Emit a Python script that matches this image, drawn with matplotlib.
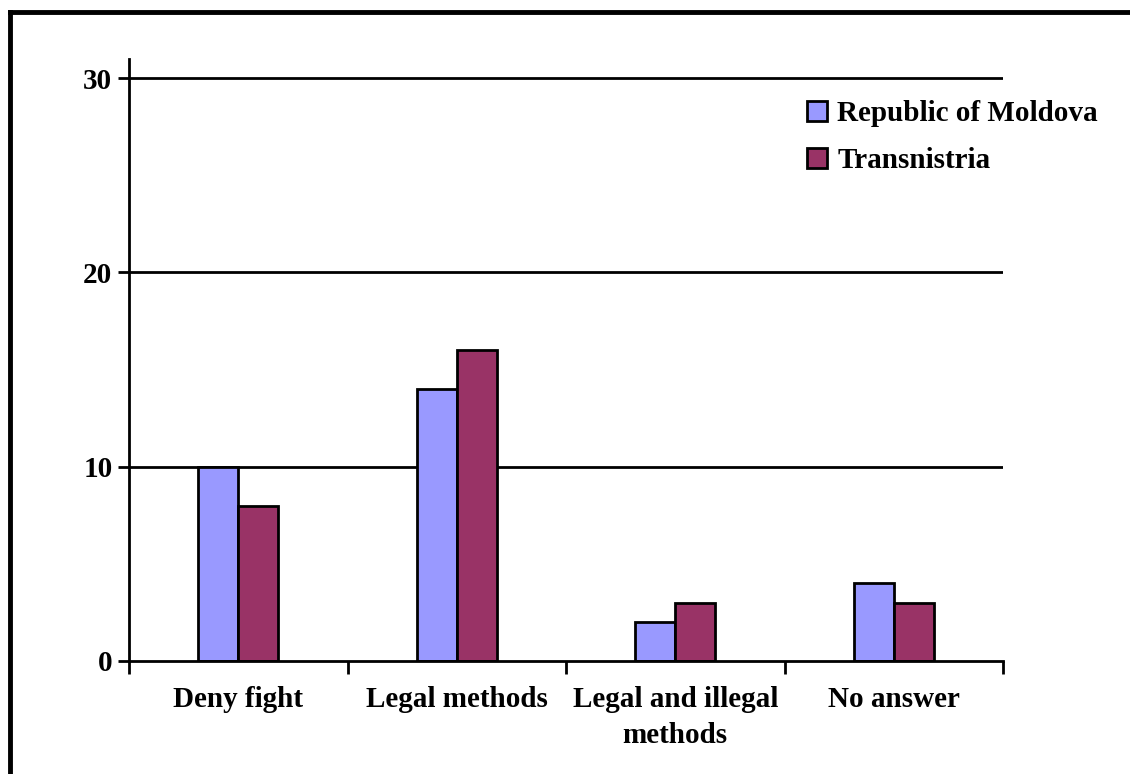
import numpy as np
import matplotlib
matplotlib.use("Agg")
import matplotlib.pyplot as plt
from matplotlib.lines import Line2D

categories = ["Deny fight", "Legal methods", "Legal and illegal\nmethods", "No answer"]
series_names = ["Republic of Moldova", "Transnistria"]
moldova = [10, 14, 2, 4]
transnistria = [8, 16, 3, 3]
y_ticks = [0, 10, 20, 30]

colors = ["#9999FF", "#993366"]

plt.rcParams["font.family"] = ["Liberation Serif", "DejaVu Serif"]
plt.rcParams["font.weight"] = "bold"

fig = plt.figure(figsize=(11.3, 7.74), dpi=100)
ax = fig.add_axes([0.1142, 0.146, 0.8876 - 0.1142, 0.9243 - 0.146])

x = np.arange(len(categories))
w = 0.183
for vals, c, name, off in zip([moldova, transnistria], colors, series_names, [-w / 2, w / 2]):
    ax.bar(x + off, vals, width=w, color=c, edgecolor="black", linewidth=2,
           label=name, zorder=3)

for yv in y_ticks[1:]:
    ax.axhline(yv, color="black", linewidth=2, zorder=1)

ax.set_xlim(-0.5, len(categories) - 0.5)
ax.set_ylim(0, 31)
ax.set_yticks(y_ticks)
ax.set_yticklabels([str(v) for v in y_ticks], fontsize=21, fontweight="bold")
ax.set_xticks(np.arange(len(categories) + 1) - 0.5)
ax.set_xticklabels([])
ax.set_xticks(x, minor=True)
ax.set_xticklabels(categories, minor=True, fontsize=21, fontweight="bold", linespacing=1.45)
ax.tick_params(axis="x", which="major", direction="out", length=9, width=2)
ax.tick_params(axis="x", which="minor", length=0, pad=18)
ax.tick_params(axis="y", direction="out", length=8, width=2, pad=4)

for s in ["top", "right"]:
    ax.spines[s].set_visible(False)
for s in ["left", "bottom"]:
    ax.spines[s].set_linewidth(2)
    ax.spines[s].set_zorder(4)

leg = ax.legend(loc="upper left", bbox_to_anchor=(0.691, 0.905), bbox_transform=fig.transFigure,
                frameon=False, prop={"size": 21, "weight": "bold"},
                handlelength=0.68, handleheight=0.68, handletextpad=0.35, labelspacing=0.7)
for h in leg.legend_handles:
    h.set_linewidth(2)

# outer frame (left and top edges only)
fig.add_artist(Line2D([0.0088, 0.0088], [0.0, 0.9845], color="black", linewidth=3.5,
                      transform=fig.transFigure, solid_capstyle="projecting"))
fig.add_artist(Line2D([0.0088, 1.0], [0.9845, 0.9845], color="black", linewidth=3.5,
                      transform=fig.transFigure, solid_capstyle="projecting"))

fig.savefig("out.png", dpi=100)
